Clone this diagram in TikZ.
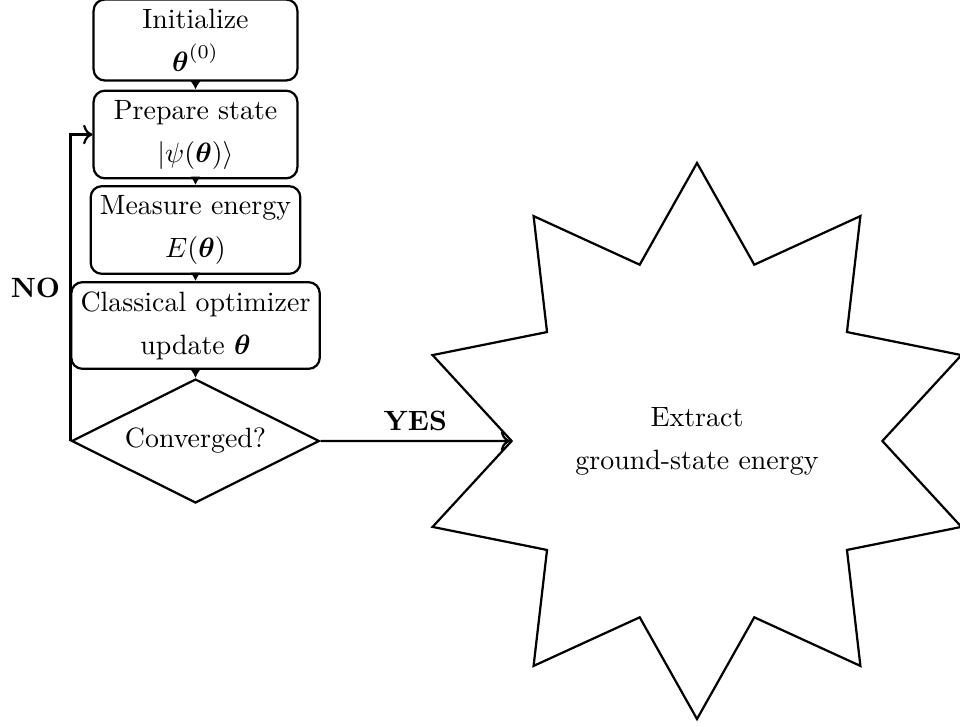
\documentclass[tikz,border=0pt]{standalone}
\usepackage{amsmath,amssymb}
\usetikzlibrary{shapes.geometric,arrows.meta}
\begin{document}
\begin{tikzpicture}[x=0.3582pt,y=-0.3582pt,
  box/.style={draw, thick, rounded corners=4pt, align=center, minimum width=73pt, inner sep=3.33pt},
  dec/.style={draw, thick, diamond, aspect=2, align=center, inner sep=3.33pt},
  burst/.style={draw, thick, star, star points=10, star point ratio=1.5, minimum size=7cm, align=center},
  arr/.style={->, thick},
  flow/.style={-{Latex[length=3pt,width=3.6pt]}, thick},
  lbl/.style={font=\bfseries}]
\useasboundingbox (0,0) rectangle (960,727);
\node[box] (init) at (195.5,40) {Initialize\\[3.4pt]$\boldsymbol{\theta}^{(0)}$};
\node[box] (prep) at (195.5,134.5) {Prepare state\\[3.4pt]$|\psi(\boldsymbol{\theta})\rangle$};
\node[box] (meas) at (195.5,230) {Measure energy\\[3.4pt]$E(\boldsymbol{\theta})$};
\node[box] (opt) at (195.5,325.5) {Classical optimizer\\[3.4pt]update $\boldsymbol{\theta}$};
\node[dec] (conv) at (195.5,441) {Converged?};
\node[burst] (out) at (697,441) {Extract\\[3.4pt]ground-state energy};
\draw[flow] (init) -- (prep);
\draw[flow] (prep) -- (meas);
\draw[flow] (meas) -- (opt);
\draw[flow] (opt) -- (conv);
\draw[arr] (conv) -- node[lbl, above] {YES} (out);
\draw[arr] (conv.west) |- node[lbl, pos=0.25, left] {NO} (prep.west);
\end{tikzpicture}
\end{document}
